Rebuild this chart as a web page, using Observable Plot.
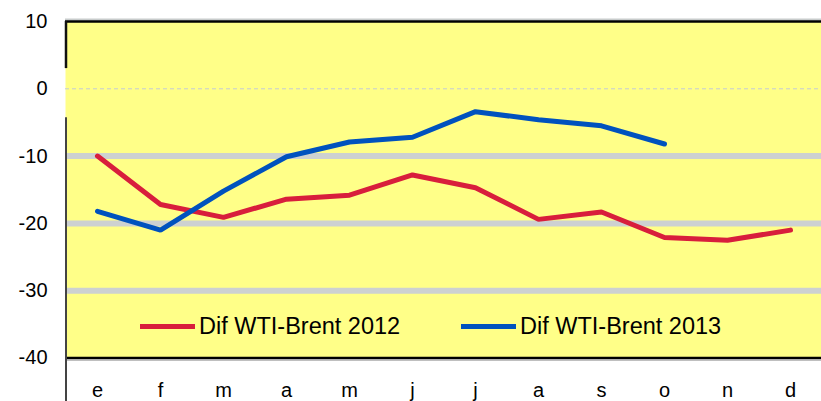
<!DOCTYPE html>
<html><head><meta charset="utf-8">
<script src="https://cdn.jsdelivr.net/npm/d3@7"></script>
<script src="https://cdn.jsdelivr.net/npm/@observablehq/plot@0.6"></script>
<style>
body{margin:0;background:#fff}
#wrap{position:relative;width:821px;height:401px;font-family:"Liberation Sans",Arial,sans-serif}
.leg{position:absolute;display:flex;align-items:center;font-size:23.5px;color:#000;white-space:nowrap;line-height:28px}
.leg span.sw{display:inline-block;width:55px;height:5px;margin-right:4px}
</style>
</head><body><div id="wrap"></div>
<script>
const monthLabels = ["e","f","m","a","m","j","j","a","s","o","n","d"];
const dif2012 = [-10.0,-17.2,-19.1,-16.4,-15.8,-12.8,-14.7,-19.4,-18.3,-22.1,-22.5,-21.0];
const dif2013 = [-18.2,-21.0,-15.2,-10.1,-7.9,-7.2,-3.4,-4.6,-5.5,-8.2];
const yTicks = [10,0,-10,-20,-30,-40];
const gridValues = [-10,-20,-30];
const seriesNames = ["Dif WTI-Brent 2012","Dif WTI-Brent 2013"];
const seriesColors = ["#D81E3C","#0052BE"];

const idx = d3.range(monthLabels.length);
const s2012 = dif2012.map((v,i)=>({i, v}));
const s2013 = dif2013.map((v,i)=>({i, v}));

const chart = Plot.plot({
  width: 821, height: 401,
  marginLeft: 65, marginRight: 0, marginTop: 21, marginBottom: 43.5,
  style: {fontFamily: "'Liberation Sans', Arial, sans-serif", fontSize: "20px", color: "#000", background: "transparent", overflow: "visible"},
  x: {type: "point", domain: idx, padding: 0.5, axis: null, label: null},
  y: {domain: [-40, 10], axis: null, label: null},
  marks: [
    Plot.frame({fill: "#FFFF88", stroke: null}),
    Plot.ruleY(gridValues, {stroke: "#CDD1D1", strokeWidth: 6}),
    Plot.ruleY([0], {stroke: "#C4CAD6", strokeDasharray: "4,3", strokeWidth: 1}),
    Plot.ruleY([10], {stroke: "#C8CCCC", strokeWidth: 2, dy: -2}),
    Plot.ruleY([10], {stroke: "#000", strokeWidth: 2.5}),
    Plot.ruleY([-40], {stroke: "#000", strokeWidth: 2.5}),
    Plot.ruleY([-40], {stroke: "#AAAAAA", strokeWidth: 1.5, dy: 2}),
    Plot.ruleX([0], {x: () => 0, y1: 10, y2: 3, stroke: "#111", strokeWidth: 2.5, dx: -31.5}),
    Plot.ruleX([0], {x: () => 0, y1: -4.3, y2: -46.5, stroke: "#444", strokeWidth: 2, dx: -31.5}),
    Plot.line(s2012, {x: "i", y: "v", stroke: seriesColors[0], strokeWidth: 5, strokeLinecap: "round", strokeLinejoin: "miter"}),
    Plot.line(s2013, {x: "i", y: "v", stroke: seriesColors[1], strokeWidth: 5, strokeLinecap: "round", strokeLinejoin: "miter"}),
    Plot.axisY(yTicks, {tickSize: 0, tickPadding: 18, fontSize: 20, label: null, tickFormat: d => String(d)}),
    Plot.axisX(idx, {tickSize: 0, tickPadding: 25, fontSize: 20, label: null, tickFormat: i => monthLabels[i]})
  ]
});
const wrap = document.getElementById("wrap");
wrap.appendChild(chart);
const legPos = [{left: 140, top: 312}, {left: 461, top: 312}];
seriesNames.forEach((name, k) => {
  const d = document.createElement("div");
  d.className = "leg";
  d.style.left = legPos[k].left + "px";
  d.style.top = legPos[k].top + "px";
  const sw = document.createElement("span");
  sw.className = "sw";
  sw.style.background = seriesColors[k];
  d.appendChild(sw);
  const t = document.createElement("span");
  t.textContent = name;
  d.appendChild(t);
  wrap.appendChild(d);
});
</script>
</body></html>
